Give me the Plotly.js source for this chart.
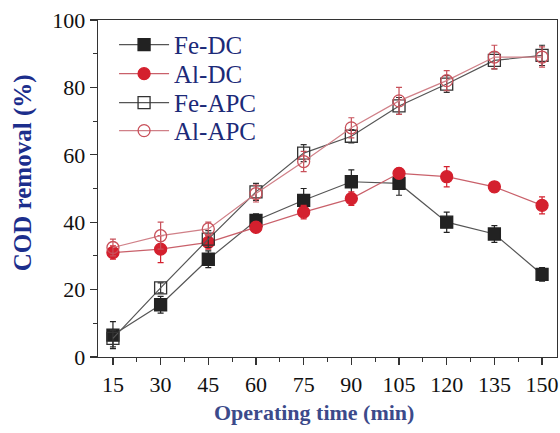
<!DOCTYPE html>
<html><head><meta charset="utf-8">
<script src="https://cdn.plot.ly/plotly-3.0.1.min.js"></script>
<style>html,body{margin:0;padding:0;background:#fff}#chart{width:560px;height:433px}</style>
</head><body><div id="chart"></div>
<script>
const times = [15, 30, 45, 60, 75, 90, 105, 120, 135, 150];
const feDC = [6.5, 15.5, 29, 40.5, 46.5, 52, 51.5, 40, 36.5, 24.5];
const feDCerr = [4, 2.5, 2.5, 2, 3.5, 3.5, 3.5, 3, 2.5, 2];
const alDC = [31, 32, 34, 38.5, 43, 47, 54.5, 53.5, 50.5, 45];
const alDCerr = [2, 4, 2, 1.5, 2, 2, 1.5, 3, 1.5, 2.5];
const feAPC = [5.5, 20.5, 35, 49, 60.5, 65.5, 74.5, 81, 88, 89.5];
const feAPCerr = [2.5, 1.5, 2.5, 2.5, 2.5, 2, 2.5, 2.5, 2.5, 3];
const alAPC = [32.5, 36, 38, 48.5, 58, 68, 76, 82, 89, 89];
const alAPCerr = [2.5, 4, 2, 2.5, 3, 3, 4, 3, 3.5, 3];
const tickVals = [15, 30, 45, 60, 75, 90, 105, 120, 135, 150];
const xTitle = '<b>Operating time (min)</b>';
const yTitle = '<b>COD removal (%)</b>';
const FONT = 'Times New Roman, Liberation Serif, serif';

function tr(name, y, err, color, symbol, lineColor, leg) {
  return {
    x: times, y: y, name: name, type: 'scatter', mode: 'lines+markers', legend: leg,
    line: {color: lineColor, width: 1.2},
    marker: {symbol: symbol, size: 12, color: color, line: {color: color, width: 1.3}},
    error_y: {type: 'data', array: err, visible: true, color: color, thickness: 1.2, width: 3}
  };
}
const data = [
  tr('Fe-DC', feDC, feDCerr, '#222222', 'square', '#555555', 'legend'),
  tr('Al-DC', alDC, alDCerr, '#d4202e', 'circle', '#c9606a', 'legend2'),
  tr('Fe-APC', feAPC, feAPCerr, '#333333', 'square-open', '#555555', 'legend3'),
  tr('Al-APC', alAPC, alAPCerr, '#c8505a', 'circle-open', '#d08088', 'legend4')
];
function leg(y) {
  return {x: 0.035, y: y, xanchor: 'left', yanchor: 'middle', bgcolor: 'rgba(0,0,0,0)',
    font: {size: 25, color: '#1c2a78', family: FONT}, itemwidth: 50};
}
const layout = {
  width: 560, height: 433,
  margin: {l: 98, r: 3, t: 20, b: 76},
  paper_bgcolor: '#fff', plot_bgcolor: '#fff',
  font: {family: FONT, color: '#111'},
  showlegend: true,
  legend: leg(0.926), legend2: leg(0.840), legend3: leg(0.754), legend4: leg(0.671),
  xaxis: {
    range: [10.3, 154.7], tickvals: tickVals, ticktext: tickVals.map(String),
    showgrid: false, zeroline: false, showline: true, linecolor: '#333', linewidth: 1.3, mirror: true,
    ticks: 'outside', ticklen: 7, tickwidth: 1.3, tickcolor: '#333',
    minor: {dtick: 7.5, tick0: 7.5, ticks: 'outside', ticklen: 4, tickcolor: '#333', tickwidth: 1.2},
    tickfont: {size: 22, color: '#111', family: FONT}
  },
  yaxis: {
    range: [0, 100], tickvals: [0, 20, 40, 60, 80, 100],
    showgrid: false, zeroline: false, showline: true, linecolor: '#333', linewidth: 1.3, mirror: true,
    ticks: 'outside', ticklen: 7, tickwidth: 1.3, tickcolor: '#333',
    minor: {dtick: 10, ticks: 'outside', ticklen: 4, tickcolor: '#333', tickwidth: 1.2},
    tickfont: {size: 22, color: '#111', family: FONT}
  },
  annotations: [
    {text: xTitle, xref: 'paper', yref: 'paper', x: 0.47, y: -0.166, xanchor: 'center', yanchor: 'middle',
     showarrow: false, font: {size: 22, color: '#3c4a8a', family: FONT}},
    {text: yTitle, xref: 'paper', yref: 'paper', x: -0.163, y: 0.546, xanchor: 'center', yanchor: 'middle',
     textangle: -90, showarrow: false, font: {size: 25, color: '#1c2e8c', family: FONT}}
  ]
};
Plotly.newPlot('chart', data, layout, {displayModeBar: false, staticPlot: true});
</script></body></html>
